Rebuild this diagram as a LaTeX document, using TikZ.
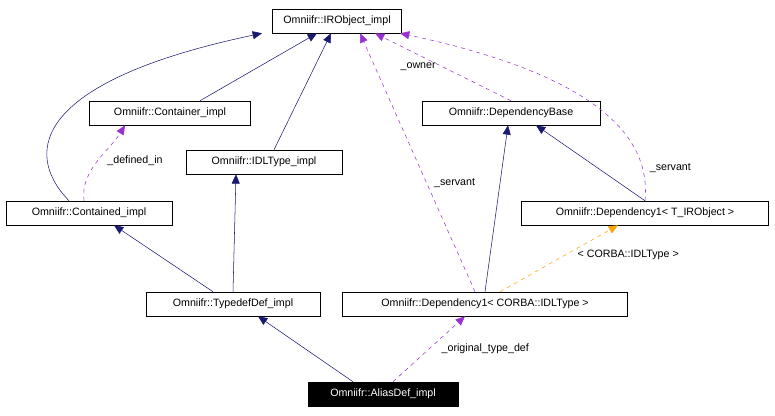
\documentclass[tikz,border=0pt]{standalone}
\usepackage{fontspec}
\setmainfont{Liberation Sans}
\usetikzlibrary{arrows.meta,calc}
\definecolor{navy}{RGB}{25,25,112}
\definecolor{dpurple}{RGB}{153,50,204}
\definecolor{orng}{RGB}{255,165,0}
\begin{document}
\begin{tikzpicture}[x=0.75pt,y=-0.75pt,
  cls/.style={draw,rectangle,minimum height=18pt,inner sep=2pt,font=\fontsize{8}{9.5}\selectfont},
  inh/.style={navy,-{Triangle[length=7pt,width=6pt]}},
  use/.style={dpurple,dashed,-{Triangle[length=7pt,width=6pt]}},
  tpl/.style={orng,dashed,-{Triangle[length=7pt,width=6pt]}},
  lbl/.style={text=black,font=\fontsize{8}{9.5}\selectfont}]

\useasboundingbox (0,0) rectangle (775,415);

% Classes
\node[cls,minimum width=96.75pt] (iro) at (337,21) {Omniifr::IRObject\_impl};
\node[cls,minimum width=120.75pt] (cont) at (170,113) {Omniifr::Container\_impl};
\node[cls,minimum width=133.5pt] (dbase) at (511,113) {Omniifr::DependencyBase};
\node[cls,minimum width=117pt] (idl) at (264,162) {Omniifr::IDLType\_impl};
\node[cls,minimum width=124.5pt] (ctd) at (89,213) {Omniifr::Contained\_impl};
\node[cls,minimum width=185.25pt] (depT) at (645,213) {Omniifr::Dependency1< T\_IRObject >};
\node[cls,minimum width=130.5pt] (tdef) at (233,304) {Omniifr::TypedefDef\_impl};
\node[cls,minimum width=213.75pt] (depI) at (485,304) {Omniifr::Dependency1< CORBA::IDLType >};
\node[cls,minimum width=112.5pt,fill=black,text=white] (alias) at (383,394) {Omniifr::AliasDef\_impl};

% Inheritance
\draw[inh] ($(cont.north)+(30,0)$) -- ($(iro.south)+(-20,0)$);
\draw[inh] ($(ctd.north)+(-20,0)$) .. controls (20,150) and (40,80) .. ($(iro.south)+(-75,0)$);
\draw[inh] ($(idl.north)+(10,0)$) -- ($(iro.south)+(-6,0)$);
\draw[inh] ($(tdef.north)+(-20,0)$) -- ($(ctd.south)+(25,0)$);
\draw[inh] (tdef.north) -- ($(idl.south)+(-28,0)$);
\draw[inh] ($(alias.north)+(-30,0)$) -- ($(tdef.south)+(25,0)$);
\draw[inh] (depI.north) -- ($(dbase.south)+(-3,0)$);
\draw[inh] (depT.north) -- ($(dbase.south)+(25,0)$);

% Usage
\draw[use] ($(ctd.north)+(-5,0)$) .. controls (80,170) and (110,150) .. ($(cont.south)+(-45,0)$)
  node[lbl,pos=0.5,right=4pt] {\_defined\_in};
\draw[use] ($(alias.north)+(10,0)$) -- ($(depI.south)+(-20,0)$)
  node[lbl,pos=0.5,right=6pt] {\_original\_type\_def};
\draw[use] ($(depI.north)+(-10,0)$) -- ($(iro.south)+(23,0)$)
  node[lbl,pos=0.42,right=2pt] {\_servant};
\draw[use] (dbase.north) -- ($(iro.south)+(38,0)$)
  node[lbl,pos=0.5,left=2pt] {\_owner};
\draw[use] (depT.north) .. controls (650,150) and (620,80) .. ($(iro.south)+(63,0)$)
  node[lbl,pos=0.2,right=2pt] {\_servant};
\draw[tpl] ($(depI.north)+(15,0)$) -- ($(depT.south)+(-27,0)$)
  node[lbl,pos=0.55,right=6pt] {< CORBA::IDLType >};

\end{tikzpicture}
\end{document}
